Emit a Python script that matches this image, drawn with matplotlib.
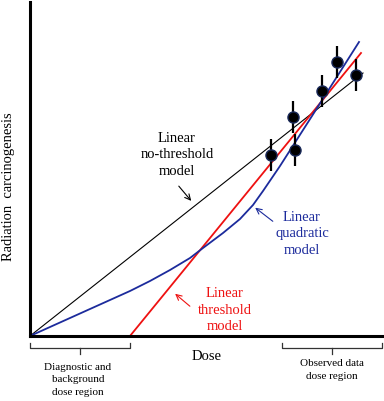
import matplotlib
matplotlib.use("Agg")
import matplotlib.pyplot as plt

plt.rcParams['font.family'] = ['Liberation Serif', 'DejaVu Serif']

# arbitrary dose / response units
lnt_dose = [0, 333]
lnt_resp = [0, 263]

thr_dose = [100, 331]
thr_resp = [0, 283]

lq_dose = [0, 20, 40, 60, 80, 100, 120, 140, 160, 173, 193, 210, 223, 233,
           250, 282, 329]
lq_resp = [0, 9, 18, 27, 36, 45, 55, 66, 78, 88, 103, 117, 131, 145,
           170, 220, 294]

obs_dose = [241, 263, 265, 292, 307, 326]
obs_resp = [181, 219, 186, 245, 274, 261]
obs_err = [16, 16, 16, 16, 16, 16]

BLUE = '#1c2b9c'
RED = '#ee1111'

fig = plt.figure(figsize=(3.84, 4.01), dpi=100)
ax = fig.add_axes([30 / 384, 65 / 401, 352 / 384, 334 / 401])

ax.plot(lnt_dose, lnt_resp, color='black', lw=0.8)
ax.plot(thr_dose, thr_resp, color=RED, lw=1.3)
ax.plot(lq_dose, lq_resp, color=BLUE, lw=1.3, solid_joinstyle='round')
ax.errorbar(obs_dose, obs_resp, yerr=obs_err, fmt='o', color='black',
            ms=8, mfc='black', mec='#1a2a5a', ecolor='black', elinewidth=1.6,
            capsize=0, zorder=5)

ax.set_xlim(0, 352)
ax.set_ylim(0, 334)
for s in ['top', 'right']:
    ax.spines[s].set_visible(False)
ax.spines['left'].set_linewidth(2.2)
ax.spines['bottom'].set_linewidth(2.2)
ax.set_xticks([])
ax.set_yticks([])

fs = 10.5
ax.text(147, 181, "Linear\nno-threshold\nmodel", ha='center', va='center',
        fontsize=fs, linespacing=1.35)
ax.annotate("", xy=(163, 133), xytext=(147, 152),
            arrowprops=dict(arrowstyle='->', color='black', lw=0.8))

ax.text(272, 102, "Linear\nquadratic\nmodel", ha='center', va='center',
        fontsize=fs, color=BLUE, linespacing=1.35)
ax.annotate("", xy=(223, 130), xytext=(245, 113),
            arrowprops=dict(arrowstyle='->', color=BLUE, lw=0.8))

ax.text(195, 26, "Linear\nthreshold\nmodel", ha='center', va='center',
        fontsize=fs, color=RED, linespacing=1.35)
ax.annotate("", xy=(143, 44), xytext=(162, 28),
            arrowprops=dict(arrowstyle='->', color=RED, lw=0.8))

# dose region brackets below the axis
for x0, x1 in [(0, 100), (252, 352)]:
    xc = (x0 + x1) / 2
    ax.plot([x0, x0, x1, x1], [-7, -12, -12, -7], color='#333333', lw=0.9,
            clip_on=False)
    ax.plot([xc, xc], [-12, -18], color='#333333', lw=0.9, clip_on=False)

ax.text(177, -21, "Dose", ha='center', va='center', fontsize=fs)
ax.text(48, -44, "Diagnostic and\nbackground\ndose region", ha='center',
        va='center', fontsize=8, linespacing=1.45)
ax.text(302, -34, "Observed data\ndose region", ha='center', va='center',
        fontsize=8, linespacing=1.45)
ax.text(-21, 149, "Radiation  carcinogenesis", rotation=90, ha='center',
        va='center', fontsize=fs)

fig.savefig("out.png", dpi=100)
